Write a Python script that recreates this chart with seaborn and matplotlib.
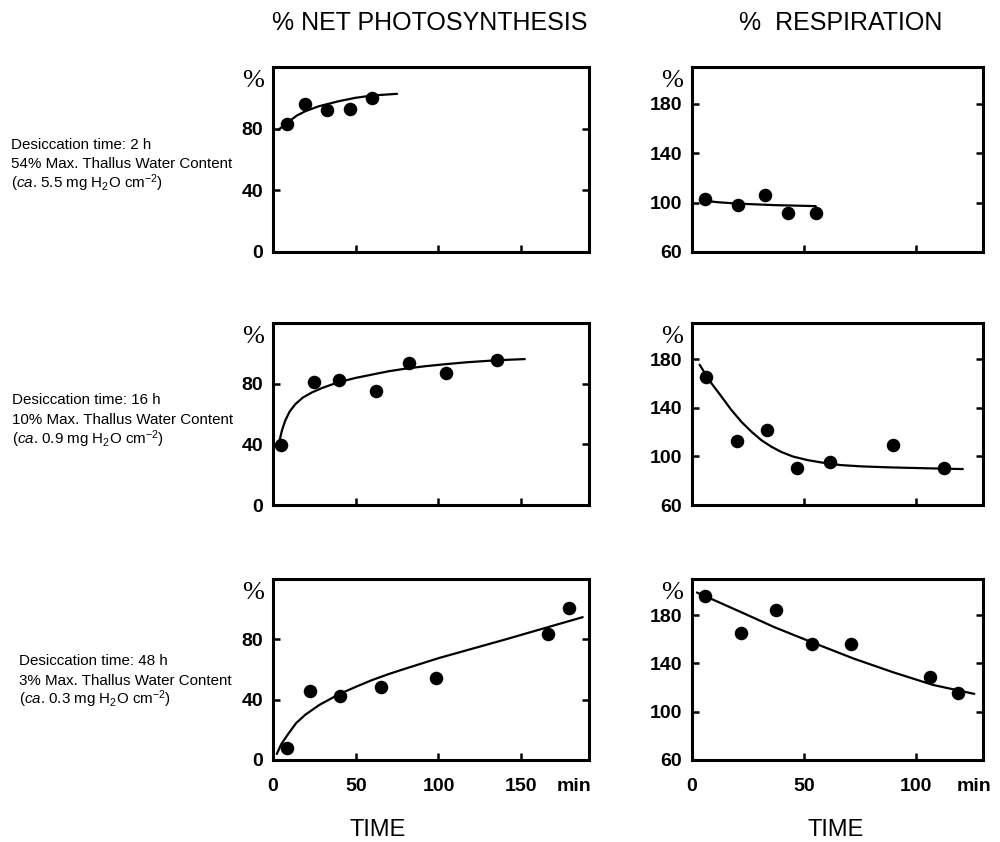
import matplotlib
matplotlib.use("Agg")
import matplotlib.pyplot as plt
import pandas as pd
import seaborn as sns
from matplotlib import font_manager

sns.set_style("white")
installed = {f.name for f in font_manager.fontManager.ttflist}
NARROW = "Liberation Sans Narrow" if "Liberation Sans Narrow" in installed else "Liberation Sans"
plt.rcParams["font.family"] = ["Liberation Sans", "DejaVu Sans"]
plt.rcParams["mathtext.fontset"] = "custom"
plt.rcParams["mathtext.rm"] = "Liberation Sans"
plt.rcParams["mathtext.it"] = "Liberation Sans:italic"
plt.rcParams["text.color"] = "black"
plt.rcParams["xtick.color"] = "black"
plt.rcParams["ytick.color"] = "black"
plt.rcParams["axes.labelcolor"] = "black"

# ---- measured values: time (min) and % of control ----
# Net photosynthesis
ps_2h_t = [8.4, 19.5, 32.6, 46.4, 59.9]
ps_2h_v = [83.0, 96.0, 92.4, 92.8, 100.0]
ps_2h_fit_t = [3.3, 8.4, 14.4, 19.5, 27.6, 39.7, 49.8, 59.9, 75.0]
ps_2h_fit_v = [79.3, 83.7, 88.5, 91.3, 94.5, 97.8, 100.0, 101.5, 102.6]

ps_16h_t = [5.0, 24.7, 39.7, 62.3, 82.1, 104.7, 135.6]
ps_16h_v = [39.8, 81.3, 82.6, 75.0, 93.6, 86.8, 95.5]
ps_16h_fit_t = [3.7, 5.5, 7.4, 10.0, 13.5, 18.0, 23.5, 30.0, 39.7, 50.0, 59.9,
                70.0, 80.1, 92.0, 104.7, 117.0, 130.6, 141.0, 152.2]
ps_16h_fit_v = [41.5, 49.5, 55.7, 61.5, 66.5, 70.8, 74.2, 77.3, 81.0, 83.8, 86.0,
                88.2, 89.9, 91.5, 92.9, 94.1, 95.1, 95.7, 96.2]

ps_48h_t = [8.4, 22.5, 40.7, 65.0, 98.3, 166.0, 178.7]
ps_48h_v = [7.7, 45.6, 42.3, 48.5, 54.4, 83.8, 101.0]
ps_48h_fit_t = [2.3, 5.0, 9.4, 14.0, 19.5, 28.0, 39.7, 50.0, 59.9, 70.0, 80.1,
                100.3, 120.5, 140.7, 160.9, 187.2]
ps_48h_fit_v = [4.0, 10.5, 17.6, 24.5, 30.0, 36.5, 43.5, 48.5, 53.0, 57.0, 60.6,
                67.6, 73.8, 80.0, 86.4, 94.7]

# Respiration
rs_2h_t = [5.9, 20.7, 32.7, 42.8, 55.6]
rs_2h_v = [103.3, 98.0, 106.5, 91.8, 91.8]
rs_2h_fit_t = [3.7, 12.0, 20.7, 36.9, 55.3]
rs_2h_fit_v = [101.9, 100.3, 99.2, 98.0, 97.2]

rs_16h_t = [6.3, 19.9, 33.5, 46.9, 61.7, 90.0, 112.8]
rs_16h_v = [165.4, 112.6, 122.1, 90.1, 95.6, 109.8, 90.1]
rs_16h_fit_t = [3.4, 8.0, 13.3, 17.5, 22.1, 26.5, 31.0, 35.5, 39.8, 45.0, 51.6, 58.0, 66.4, 76.0, 88.5, 104.0, 121.0]
rs_16h_fit_v = [175.6, 162.0, 149.0, 138.5, 128.5, 120.5, 113.4, 108.0, 103.8, 100.0, 97.0, 95.0, 92.9, 91.8, 91.0, 90.3, 89.6]

rs_48h_t = [5.9, 21.8, 37.6, 53.4, 71.1, 106.2, 118.7]
rs_48h_v = [196.1, 165.1, 184.3, 156.4, 155.8, 129.0, 115.3]
rs_48h_fit_t = [2.2, 22.1, 36.9, 53.4, 72.3, 90.0, 107.7, 126.1]
rs_48h_fit_v = [198.8, 182.4, 170.0, 157.7, 144.0, 132.6, 122.2, 114.8]

row_notes = [
    ["Desiccation time: 2 h", "54% Max. Thallus Water Content",
     r"($\it{ca}$. 5.5 mg H$_2$O cm$^{-2}$)"],
    ["Desiccation time: 16 h", "10% Max. Thallus Water Content",
     r"($\it{ca}$. 0.9 mg H$_2$O cm$^{-2}$)"],
    ["Desiccation time: 48 h", "3% Max. Thallus Water Content",
     r"($\it{ca}$. 0.3 mg H$_2$O cm$^{-2}$)"],
]

ps_yticks = [0, 40, 80]
rs_yticks = [60, 100, 140, 180]
ps_xticks = [0, 50, 100, 150]
rs_xticks = [0, 50, 100]

panels = [
    [(ps_2h_t, ps_2h_v, ps_2h_fit_t, ps_2h_fit_v), (rs_2h_t, rs_2h_v, rs_2h_fit_t, rs_2h_fit_v)],
    [(ps_16h_t, ps_16h_v, ps_16h_fit_t, ps_16h_fit_v), (rs_16h_t, rs_16h_v, rs_16h_fit_t, rs_16h_fit_v)],
    [(ps_48h_t, ps_48h_v, ps_48h_fit_t, ps_48h_fit_v), (rs_48h_t, rs_48h_v, rs_48h_fit_t, rs_48h_fit_v)],
]

W, H = 1000, 842
fig = plt.figure(figsize=(W / 100, H / 100), dpi=100)

# axes boxes in pixels: (top, bottom)
rows_px = [(67, 252), (323, 505), (579, 760)]
cols_px = [(273, 589), (692, 983)]
col_cfg = [
    dict(xlim=(0, 191), ylim=(0, 120), yticks=ps_yticks, xticks=ps_xticks, min_x=182),
    dict(xlim=(0, 130), ylim=(60, 210), yticks=rs_yticks, xticks=rs_xticks, min_x=126),
]

note_base = [(11, [149, 168, 188]), (12, [404, 424, 444]), (19, [665, 685, 704])]

for r, (top, bot) in enumerate(rows_px):
    for c, (lft, rgt) in enumerate(cols_px):
        ax = fig.add_axes([lft / W, 1 - bot / H, (rgt - lft) / W, (bot - top) / H])
        t, v, ft, fv = panels[r][c]
        cfg = col_cfg[c]
        pts = pd.DataFrame({"time": t, "value": v})
        fit = pd.DataFrame({"time": ft, "value": fv})
        sns.lineplot(data=fit, x="time", y="value", ax=ax, color="black",
                     linewidth=1.6, sort=False, estimator=None)
        sns.scatterplot(data=pts, x="time", y="value", ax=ax, color="black",
                        s=95, edgecolor="black", linewidth=0, zorder=3)
        ax.set_xlim(*cfg["xlim"])
        ax.set_ylim(*cfg["ylim"])
        ax.set_xlabel("")
        ax.set_ylabel("")
        ax.set_yticks(cfg["yticks"])
        ax.set_xticks(cfg["xticks"])
        for sp in ax.spines.values():
            sp.set_linewidth(2.2)
            sp.set_color("black")
            sp.set_visible(True)
        ax.tick_params(direction="in", length=5, width=1.8, color="black",
                       labelcolor="black", left=True, right=True, bottom=True,
                       top=False, labelright=False)
        ax.tick_params(axis="y", pad=7)
        ax.tick_params(axis="x", pad=13)
        for lab in ax.get_yticklabels():
            lab.set_fontfamily(NARROW)
            lab.set_fontweight("bold")
            lab.set_fontsize(14)
        if r == 2:
            ax.set_xticklabels([str(x) for x in cfg["xticks"]], fontfamily=NARROW,
                               fontweight="bold", fontsize=14)
            ax.text(cfg["min_x"], -0.145, "min", transform=ax.get_xaxis_transform(),
                    ha="center", va="center", fontfamily=NARROW,
                    fontweight="bold", fontsize=14)
        else:
            ax.set_xticklabels([])
        ax.text(-0.03, 0.925, "%", transform=ax.transAxes, ha="right", va="center",
                fontfamily="Liberation Serif", fontsize=19)

    x0, bases = note_base[r]
    for line, yb in zip(row_notes[r], bases):
        fig.text(x0 / W, 1 - yb / H, line, ha="left", va="baseline", fontsize=10.9)

fig.text(430 / W, 1 - 23 / H, "% NET PHOTOSYNTHESIS", ha="center", va="center", fontsize=18)
fig.text(841 / W, 1 - 23 / H, "%  RESPIRATION", ha="center", va="center", fontsize=18)
fig.text(378 / W, 1 - 830 / H, "TIME", ha="center", va="center", fontsize=17)
fig.text(836 / W, 1 - 830 / H, "TIME", ha="center", va="center", fontsize=17)

fig.savefig("out.png", dpi=100, facecolor="white")
